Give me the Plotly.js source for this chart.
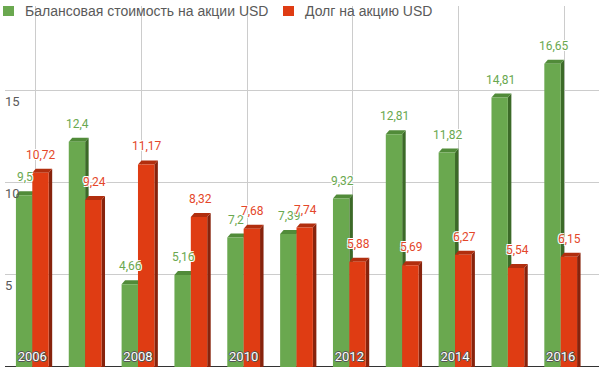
<!DOCTYPE html>
<html><head><meta charset="utf-8">
<script src="https://cdn.plot.ly/plotly-3.0.1.min.js"></script>
<style>html,body{margin:0;padding:0;overflow:hidden;background:#fff}</style>
</head><body><div id="chart" style="width:599px;height:367px"></div>
<script>
// ---- data ----
const years = [2006, 2007, 2008, 2009, 2010, 2011, 2012, 2013, 2014, 2015, 2016];
const bookValue = [9.5, 12.4, 4.66, 5.16, 7.2, 7.39, 9.32, 12.81, 11.82, 14.81, 16.65];
const debtValue = [10.72, 9.24, 11.17, 8.32, 7.68, 7.74, 5.88, 5.69, 6.27, 5.54, 6.15];
const seriesNames = ['Балансовая стоимость на акции USD', 'Долг на акцию USD'];
const yearTicks = [2006, 2008, 2010, 2012, 2014, 2016];
const valueTicks = [5, 10, 15];

// ---- style / geometry ----
const W = 599, H = 367;
const LEGFONT = '"Liberation Sans", Arial, sans-serif';
const FONT = 'Roboto, sans-serif';
const pxPerYear = 52.84, pxPerUnit = 18.4;
const depthX = 3.5 / pxPerYear, depthY = 4 / pxPerUnit;
const barW = 0.31;
const series = [
  {vals: bookValue, front: '#6aa84f', top: '#518b39', side: '#3c6a28', label: '#6aa84f', off: -barW, legX: 3, textX: 23},
  {vals: debtValue, front: '#df3c13', top: '#b12e0e', side: '#87230c', label: '#e4472a', off: 0, legX: 283, textX: 303}
];

const traces = [{
  type: 'scatter', x: [years[0]], y: [0], xaxis: 'x', yaxis: 'y', mode: 'markers',
  marker: {opacity: 0}, showlegend: false, hoverinfo: 'skip'
}].concat(series.map((s, i) => ({
  type: 'bar', x: years, y: s.vals, name: seriesNames[i], showlegend: false,
  xaxis: 'x2', yaxis: 'y2', offset: s.off, width: barW,
  marker: {color: s.front, line: {width: 0}}, hoverinfo: 'skip'
})));

// 3D faces drawn on the back-wall axes (x, y): back edge at the value, front edge shifted by depth
const shapes = [];
const annotations = [];
series.forEach((s, i) => {
  years.forEach((yr, j) => {
    const v = s.vals[j];
    const x0 = yr + s.off, x1 = x0 + barW;
    shapes.push({type: 'path', xref: 'x', yref: 'y', layer: 'between', line: {width: 0}, fillcolor: s.side,
      path: `M${x1 - depthX},-1 L${x1 - depthX},${v - depthY} L${x1},${v} L${x1},-1 Z`});
    shapes.push({type: 'path', xref: 'x', yref: 'y', layer: 'between', line: {width: 0}, fillcolor: s.top,
      path: `M${x0 - depthX},${v - depthY} L${x0},${v} L${x1},${v} L${x1 - depthX},${v - depthY} Z`});
    annotations.push({xref: 'x2', yref: 'y2', x: x0 + barW / 2, y: v, yanchor: 'middle', yshift: 18, xshift: 1,
      showarrow: false, text: String(v).replace('.', ','),
      font: {family: FONT, size: 12, color: s.label,
        shadow: '1px 1px 0 #fff, -1px -1px 0 #fff, 1px -1px 0 #fff, -1px 1px 0 #fff'}});
  });
  // legend (manual)
  shapes.push({type: 'rect', xref: 'paper', yref: 'paper', layer: 'above', line: {width: 0}, fillcolor: s.front,
    x0: s.legX / W, x1: (s.legX + 11) / W, y0: 1 - 16 / H, y1: 1 - 6 / H});
  annotations.push({xref: 'paper', yref: 'paper', x: s.textX / W, y: 1 - 10.5 / H, xanchor: 'left', yanchor: 'middle',
    showarrow: false, text: seriesNames[i], font: {family: LEGFONT, size: 14, color: '#5a5a5a'}});
});

const layout = {
  width: W, height: H,
  margin: {l: 0, r: 0, t: 0, b: 0},
  paper_bgcolor: '#fff', plot_bgcolor: 'rgba(0,0,0,0)',
  font: {family: FONT, color: '#555'},
  showlegend: false,
  xaxis: {domain: [5 / W, 1], range: [2005.41711, 2016.65859], tickvals: yearTicks,
    showticklabels: false, ticks: '', showgrid: true, gridcolor: '#cccccc', zeroline: false, showline: false, fixedrange: true},
  yaxis: {domain: [0, 361 / H], range: [-0.05435, 19.5652], tickvals: valueTicks,
    ticklabelposition: 'inside', ticklabelshift: 11, ticklabelstandoff: -3, ticks: '',
    tickfont: {family: FONT, size: 13, color: '#5a5a5a'}, showgrid: true, gridcolor: '#cccccc',
    zeroline: true, zerolinecolor: '#333', zerolinewidth: 1, showline: false, fixedrange: true},
  xaxis2: {overlaying: 'x', range: [2005.48335, 2016.72483], tickvals: yearTicks, ticktext: yearTicks.map(String),
    ticklabelposition: 'inside', ticks: '', side: 'bottom', showgrid: false, zeroline: false, showline: false,
    tickfont: {family: FONT, size: 13, color: '#fff', shadow: '1px 0 0 #555, -1px 0 0 #555, 0 1px 0 #555, 0 -1px 0 #555'}, fixedrange: true},
  yaxis2: {overlaying: 'y', range: [0.16304, 19.7826], showticklabels: false, ticks: '',
    showgrid: false, zeroline: false, showline: false, fixedrange: true},
  shapes: shapes,
  annotations: annotations
};

Plotly.newPlot('chart', traces, layout, {displayModeBar: false, staticPlot: true});
</script>
</body></html>
